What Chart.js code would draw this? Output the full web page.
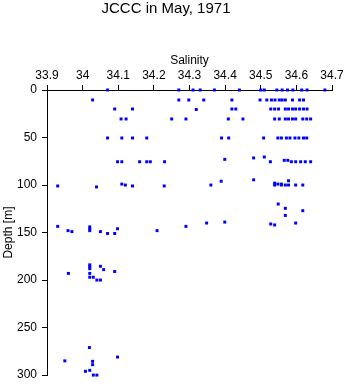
<!DOCTYPE html>
<html>
<head>
<meta charset="utf-8">
<script src="https://cdn.jsdelivr.net/npm/chart.js@4"></script>
<style>
  body { margin: 0; background: #fff; }
  #wrap { width: 346px; height: 384px; }
</style>
</head>
<body>
<div id="wrap"><canvas id="grafico-jccc"></canvas></div>
<script>
// salinidade x profundidade
const salinity = [
  // ~0 m
  34.07, 34.27, 34.31, 34.33, 34.37, 34.44, 34.50, 34.51, 34.545, 34.56, 34.575, 34.59, 34.615, 34.63, 34.68,
  // ~10 m
  34.028, 34.27, 34.298, 34.34, 34.419, 34.498, 34.517, 34.53, 34.54, 34.552, 34.56, 34.569, 34.589, 34.609, 34.62,
  // ~20 m
  34.09, 34.14, 34.319, 34.419, 34.43, 34.528, 34.539, 34.55, 34.569, 34.578, 34.589, 34.598, 34.609, 34.62, 34.63,
  // ~30 m
  34.108, 34.122, 34.25, 34.29, 34.409, 34.45, 34.539, 34.552, 34.569, 34.578, 34.589, 34.598, 34.618, 34.629, 34.64,
  // ~50 m
  34.07, 34.11, 34.14, 34.18, 34.39, 34.41, 34.508, 34.548, 34.558, 34.572, 34.582, 34.596, 34.607, 34.62, 34.629,
  // ~75 m
  34.098, 34.11, 34.16, 34.18, 34.19, 34.23, 34.399, 34.48, 34.51, 34.527, 34.566, 34.576, 34.586, 34.598, 34.612, 34.625, 34.64,
  // ~100 m
  33.93, 34.039, 34.11, 34.12, 34.14, 34.229, 34.36, 34.389, 34.48, 34.539, 34.539, 34.548, 34.558, 34.558, 34.569, 34.578, 34.578, 34.598, 34.618,
  // ~125 m
  34.549, 34.569, 34.618, 34.569,
  // ~150 m
  33.93, 33.959, 33.97, 34.02, 34.02, 34.02, 34.05, 34.07, 34.09, 34.098, 34.209, 34.29, 34.348, 34.399, 34.528, 34.539, 34.598,
  // ~200 m
  34.02, 34.02, 34.02, 34.05, 34.059, 33.96, 34.02, 34.09, 34.02, 34.03, 34.04, 34.05,
  // ~300 m
  34.019, 34.098, 33.95, 34.028, 34.028, 34.008, 34.02, 34.03, 34.04
];
const depth = [
  0, 0, 0, 0, 0, 0, 0, 0, 0, 0, 0, 0, 0, 0, 0,
  10.5, 10.5, 10.5, 10.5, 10.5, 10.5, 10.5, 10.5, 10.5, 10.5, 10.5, 10.5, 10.5, 10.5, 10.5,
  20, 20, 20.5, 20, 20, 20, 20, 20, 20, 20, 20, 20, 20, 20, 20,
  30.5, 30.5, 30.5, 30.5, 30.5, 30.5, 30.5, 30.5, 30.5, 30.5, 30.5, 30.5, 30.5, 30.5, 30.5,
  50.5, 50.5, 50.5, 50.5, 50.5, 50.5, 50.5, 50.5, 50.5, 50.5, 50.5, 50.5, 50.5, 50.5, 50.5,
  75.5, 75.5, 75.5, 75.5, 75.5, 75.5, 73, 71.5, 70.5, 75.5, 74, 74, 75.5, 75.5, 75.5, 75.5, 75.5,
  101, 102, 99, 100, 101, 101, 100, 96, 94.5, 98, 100, 99, 99, 100, 100, 95.5, 100, 100, 100,
  120, 124.5, 127, 132,
  143.5, 148, 149, 144, 146, 148, 149, 151, 151, 146, 148, 143.5, 140, 139, 141, 142, 140,
  184, 186, 188, 185.5, 189, 193, 193, 191, 197, 197, 200, 200,
  271, 281, 285, 285.5, 289, 296, 295, 300, 300
];
const salinityTicks = [33.9, 34.0, 34.1, 34.2, 34.3, 34.4, 34.5, 34.6, 34.7];
const depthTicks = [0, 50, 100, 150, 200, 250, 300];

const fonte = 'Liberation Sans, Arial, Helvetica, sans-serif';
Chart.defaults.font.family = fonte;
Chart.defaults.color = '#000';

const pontos = salinity.map((s, i) => ({ x: s, y: depth[i] }));

new Chart(document.getElementById('grafico-jccc'), {
  type: 'scatter',
  data: {
    datasets: [{
      label: 'JCCC',
      data: pontos,
      clip: false,
      pointStyle: 'rect',
      pointRadius: 2.1,
      pointBorderWidth: 0,
      backgroundColor: '#0000ff',
      borderColor: '#0000ff'
    }]
  },
  options: {
    responsive: true, maintainAspectRatio: false, animation: false,
    layout: { autoPadding: false, padding: { left: 0, right: 14, top: 0, bottom: 5 } },
    plugins: {
      legend: { display: false },
      tooltip: { enabled: false },
      title: {
        display: true, text: 'JCCC in May, 1971', color: '#000',
        font: { size: 15, weight: 'normal', lineHeight: 1.2 },
        padding: { top: 0, bottom: 0 }
      }
    },
    scales: {
      x: {
        type: 'linear', position: 'top', min: 33.9, max: 34.7,
        afterBuildTicks: (scale) => { scale.ticks = salinityTicks.map(v => ({ value: v })); },
        afterFit: (scale) => { scale.height = 72; },
        title: { display: true, text: 'Salinity', font: { size: 12 }, padding: { top: 35, bottom: 0 } },
        ticks: { font: { size: 12 }, padding: 2, maxRotation: 0, callback: v => String(Number(v.toFixed(1))) },
        grid: { drawOnChartArea: false, drawTicks: true, tickLength: 5, color: '#000', tickColor: '#000' },
        border: { display: true, color: '#000', width: 1 }
      },
      y: {
        type: 'linear', reverse: true, min: 0, max: 300,
        afterBuildTicks: (scale) => { scale.ticks = depthTicks.map(v => ({ value: v })); },
        afterFit: (scale) => { scale.width = 47; },
        title: { display: true, text: 'Depth [m]', font: { size: 12 }, padding: { top: 1, bottom: 0 } },
        // lineHeight baixo so para o layout: deixa o eixo descer ate ~375px
        ticks: { font: { size: 12, lineHeight: 0.65 }, padding: 5 },
        grid: { drawOnChartArea: false, drawTicks: true, tickLength: 5, color: '#000', tickColor: '#000' },
        border: { display: true, color: '#000', width: 1 }
      }
    }
  }
});
</script>
</body>
</html>
